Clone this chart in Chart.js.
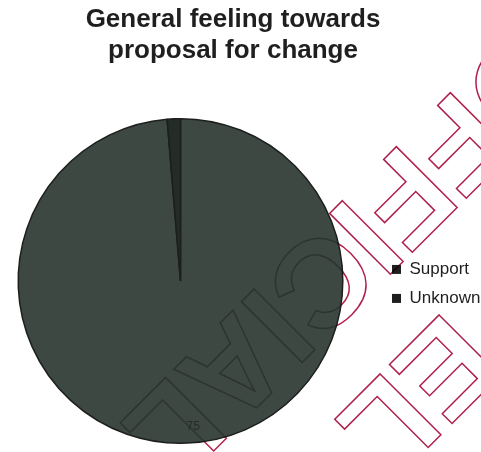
<!DOCTYPE html>
<html>
<head>
<meta charset="utf-8">
<title>General feeling towards proposal for change</title>
<script src="https://cdn.jsdelivr.net/npm/chart.js@4.4.1/dist/chart.umd.min.js"></script>
<style>
  html, body { margin:0; padding:0; background:#fff; }
  #wrap { width:481px; height:452px; }
</style>
</head>
<body>
<div id="wrap"><canvas id="feelingChart" width="481" height="452"></canvas></div>
<script>
(function(){
  // chart data
  const categories = ['Support', 'Unknown'];
  const responses = [75, 1];
  const titleLines = ['General feeling towards', 'proposal for change'];
  const stampLines = ['OFFICIAL', 'EL'];

  const FONT = '"Liberation Sans", Arial, sans-serif';
  const sliceColours = ['#3d4843', '#232c28'];
  const LEGEND_BOX = '#1f1f1f';
  const TEXT = '#1f1f1f';

  // pull the pie a little to the left of the legend, drop the legend a touch
  const nudge = {
    id: 'nudge',
    afterLayout(chart){
      const a = chart.chartArea;
      a.left -= 19;
      a.width += 19;
      chart.legend.top += 3;
      chart.legend.bottom += 3;
    }
  };

  // value labels inside the larger slices
  const sliceLabels = {
    id: 'sliceLabels',
    afterDatasetsDraw(chart){
      const ctx = chart.ctx;
      const meta = chart.getDatasetMeta(0);
      const total = responses.reduce((s,v)=>s+v,0);
      ctx.save();
      ctx.font = '12px ' + FONT;
      ctx.fillStyle = '#262b28';
      ctx.textAlign = 'left';
      ctx.textBaseline = 'middle';
      meta.data.forEach((arc, i) => {
        if(responses[i] / total < 0.05) return;
        const p = arc.getProps(['x','y','startAngle','endAngle','outerRadius'], true);
        const mid = (p.startAngle + p.endAngle) / 2;
        const r = p.outerRadius * 0.9;
        ctx.fillText(String(responses[i]), p.x + Math.cos(mid)*r, p.y + Math.sin(mid)*r);
      });
      ctx.restore();
    }
  };

  // red outlined stamp across the page; shows only faintly through the pie ink
  const stampPlacement = [ {x:525, y:18}, {x:445, y:309} ];
  const stamp = {
    id: 'stamp',
    afterDraw(chart){
      const ctx = chart.ctx;
      const p = chart.getDatasetMeta(0).data[0].getProps(['x','y','outerRadius'], true);
      const strokeAll = colour => {
        ctx.strokeStyle = colour;
        ctx.lineWidth = 1.5;
        ctx.lineJoin = 'miter';
        ctx.font = 'bold 125px ' + FONT;
        ctx.textAlign = 'left';
        ctx.textBaseline = 'alphabetic';
        stampLines.forEach((txt, i) => {
          const at = stampPlacement[i];
          ctx.save();
          ctx.translate(at.x, at.y);
          ctx.rotate(Math.PI * 0.75);
          ctx.strokeText(txt, 0, 0);
          ctx.restore();
        });
      };
      ctx.save();
      ctx.beginPath();
      ctx.rect(0, 0, chart.width, chart.height);
      ctx.arc(p.x, p.y, p.outerRadius, 0, Math.PI*2);
      ctx.clip('evenodd');
      ctx.globalCompositeOperation = 'multiply';
      strokeAll('#b01f4a');
      ctx.restore();

      ctx.save();
      ctx.beginPath();
      ctx.arc(p.x, p.y, p.outerRadius, 0, Math.PI*2);
      ctx.clip();
      strokeAll('rgba(28,32,30,0.5)');
      ctx.restore();
    }
  };

  const ctx = document.getElementById('feelingChart').getContext('2d');
  new Chart(ctx, {
    type: 'pie',
    data: {
      labels: categories,
      datasets: [{
        data: responses,
        backgroundColor: sliceColours,
        borderColor: '#1c1f1d',
        borderWidth: 1.5,
        hoverOffset: 0
      }]
    },
    options: {
      responsive: false,
      animation: false,
      layout: { padding: { left: -19, right: -4, top: 0, bottom: 8 } },
      plugins: {
        tooltip: { enabled: false },
        title: {
          display: true,
          text: titleLines,
          color: TEXT,
          font: { family: FONT, size: 26, weight: 'bold', lineHeight: 1.19 },
          padding: { top: 4, bottom: 52 }
        },
        legend: {
          position: 'right',
          align: 'center',
          fullSize: false,
          maxWidth: 105,
          labels: {
            boxWidth: 9,
            boxHeight: 9,
            padding: 12,
            color: TEXT,
            font: { family: FONT, size: 17 },
            generateLabels(chart){
              const items = Chart.overrides.doughnut.plugins.legend.labels.generateLabels(chart);
              items.forEach(it => { it.fillStyle = LEGEND_BOX; it.strokeStyle = LEGEND_BOX; it.lineWidth = 0; });
              return items;
            }
          }
        }
      }
    },
    plugins: [nudge, sliceLabels, stamp]
  });
})();
</script>
</body>
</html>
